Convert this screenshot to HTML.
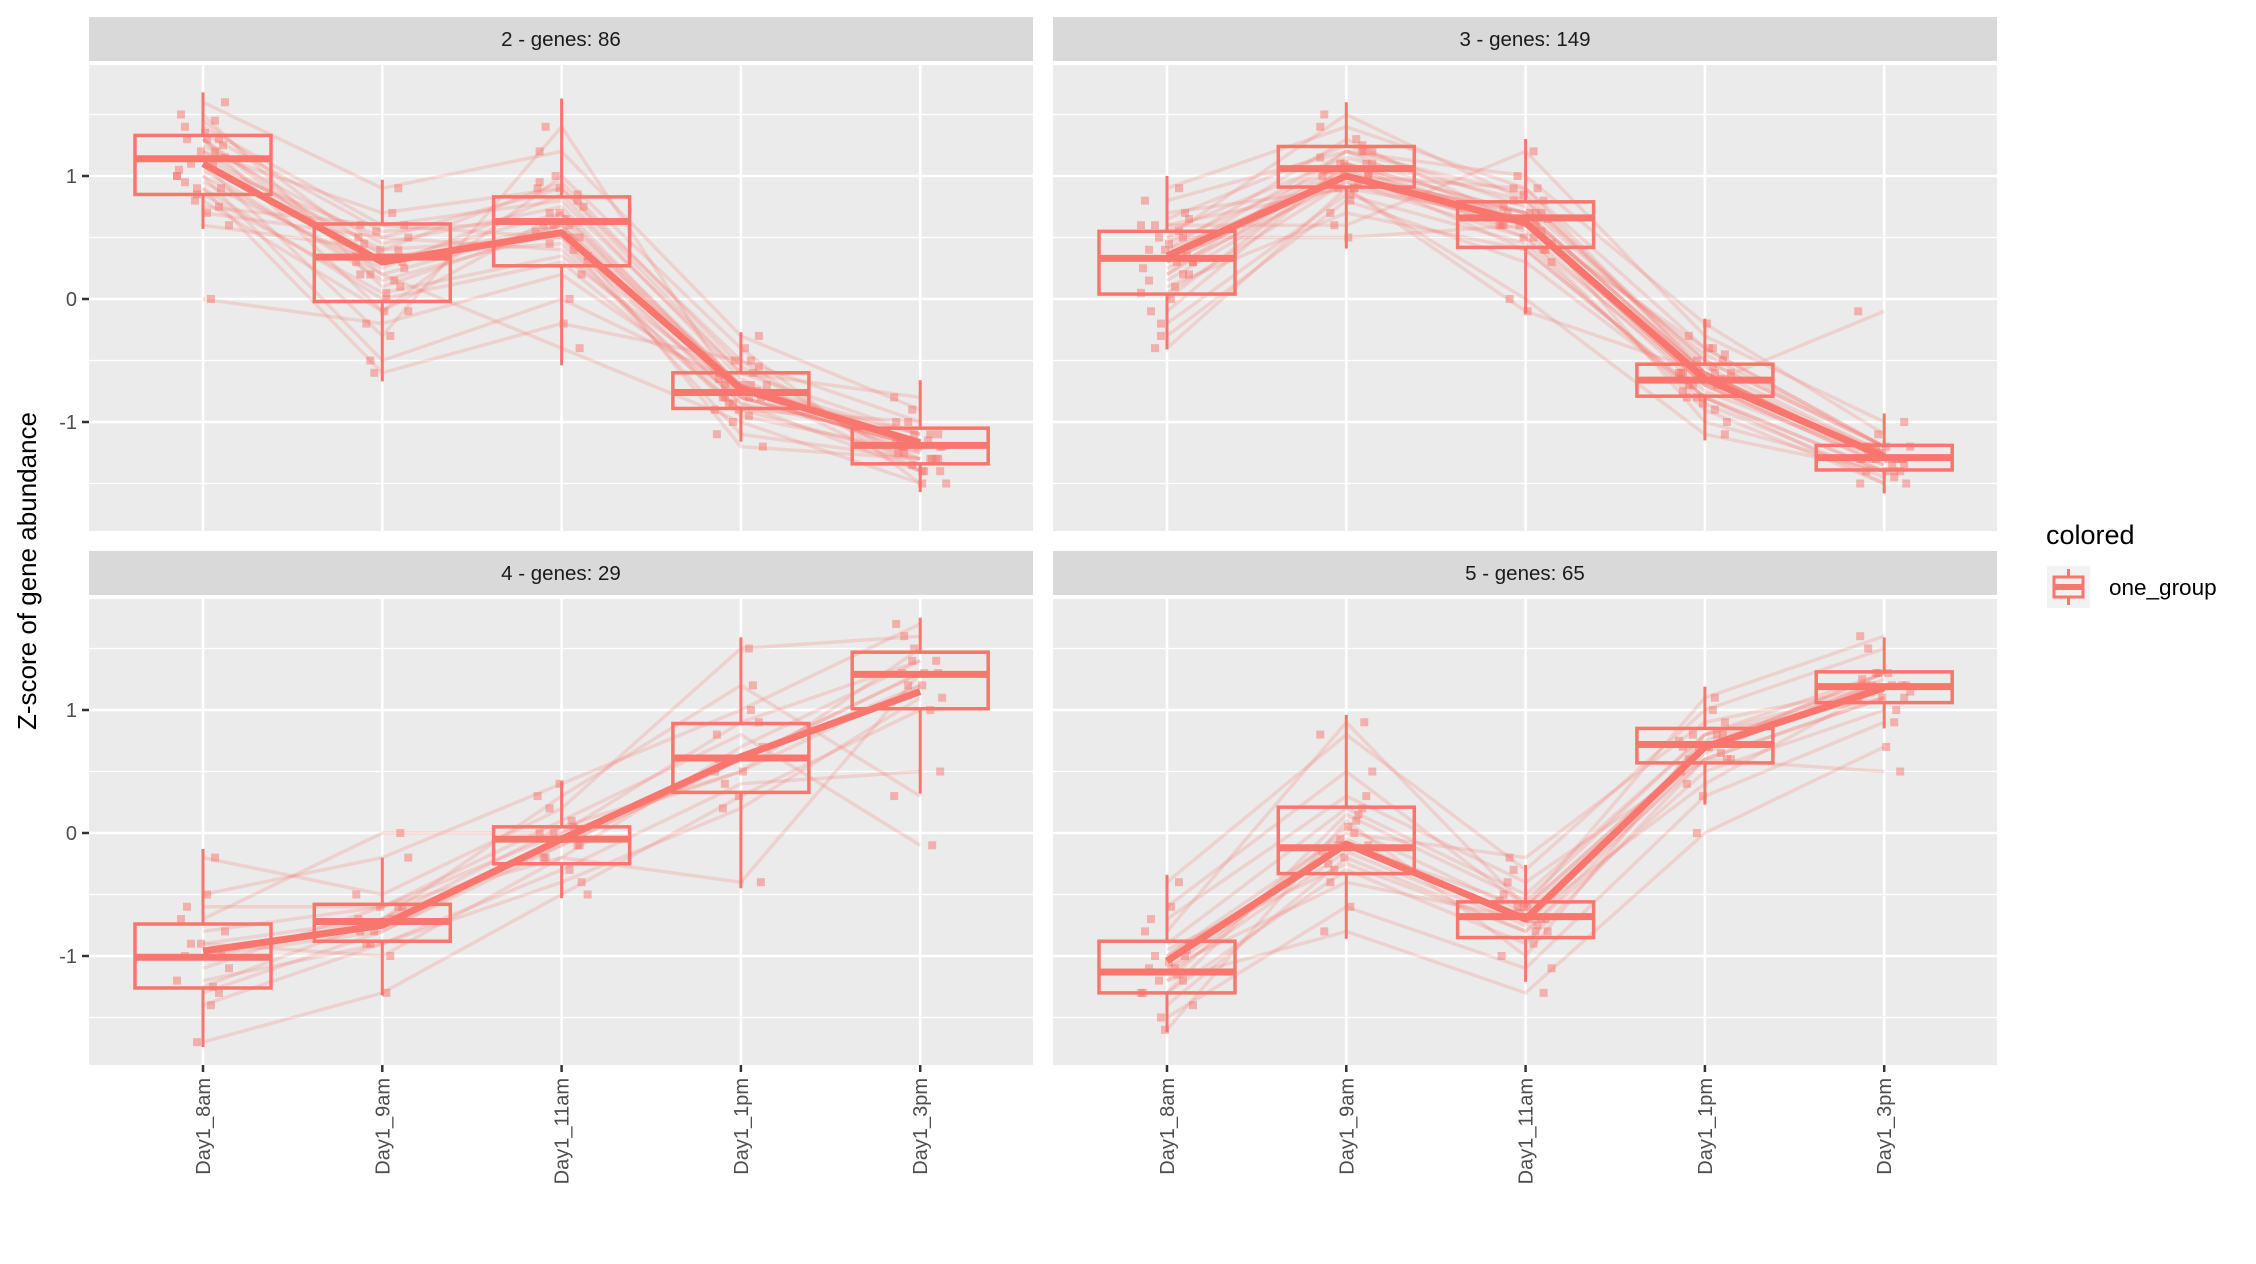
<!DOCTYPE html>
<html><head><meta charset="utf-8"><style>
html,body{margin:0;padding:0;background:#fff;}
svg{display:block;font-family:"Liberation Sans",Arial,sans-serif;}
</style></head><body>
<svg id="chart" width="2256" height="1264" viewBox="0 0 2256 1264" xmlns="http://www.w3.org/2000/svg">
<text x="0" y="0" transform="translate(36,571) rotate(-90)" text-anchor="middle" font-size="26" fill="#000">Z-score of gene abundance</text>
<text x="2046" y="544" font-size="27" fill="#000">colored</text>
<g>
<rect x="2047" y="566" width="43" height="42" fill="#f2f2f2"/>
<line x1="2068.5" y1="569" x2="2068.5" y2="605" stroke="#F8766D" stroke-width="3"/>
<rect x="2054" y="577" width="29" height="20" fill="#f2f2f2" stroke="#F8766D" stroke-width="3"/>
<line x1="2054" y1="587" x2="2083" y2="587" stroke="#F8766D" stroke-width="6"/>
<text x="2109" y="595" font-size="22.5" fill="#000">one_group</text>
</g>
<g id="panels"></g>
</svg>
<script>
const categories = ["Day1_8am","Day1_9am","Day1_11am","Day1_1pm","Day1_3pm"];
const panelTitles = ["2 - genes: 86","3 - genes: 149","4 - genes: 29","5 - genes: 65"];
const yTicks = [-1,0,1];
const yTickLabels = ["-1","0","1"];
// box stats per panel: [low whisker, q1, median, q3, high whisker] per category
const boxP2 = [[0.57,0.85,1.14,1.33,1.68],[-0.67,-0.02,0.34,0.61,0.97],[-0.54,0.27,0.63,0.83,1.63],[-1.16,-0.89,-0.76,-0.60,-0.27],[-1.57,-1.34,-1.19,-1.05,-0.66]];
const boxP3 = [[-0.41,0.04,0.33,0.55,1.0],[0.41,0.91,1.06,1.24,1.6],[-0.12,0.42,0.66,0.79,1.3],[-1.15,-0.79,-0.66,-0.53,-0.16],[-1.58,-1.39,-1.29,-1.19,-0.93]];
const boxP4 = [[-1.74,-1.26,-1.01,-0.74,-0.13],[-1.32,-0.88,-0.72,-0.58,-0.2],[-0.53,-0.25,-0.05,0.05,0.42],[-0.45,0.33,0.61,0.89,1.59],[0.32,1.01,1.29,1.47,1.75]];
const boxP5 = [[-1.62,-1.30,-1.13,-0.88,-0.34],[-0.86,-0.33,-0.12,0.21,0.96],[-1.21,-0.85,-0.68,-0.56,-0.26],[0.23,0.57,0.72,0.85,1.19],[0.85,1.06,1.19,1.31,1.59]];
const meanP2 = [1.10,0.30,0.54,-0.73,-1.17];
const meanP3 = [0.35,1.0,0.62,-0.65,-1.28];
const meanP4 = [-0.96,-0.75,-0.05,0.62,1.15];
const meanP5 = [-1.04,-0.09,-0.70,0.70,1.18];
const genesP2 = [[1.4,0.6,0.8,-0.6,-1.1],[1.2,0.3,0.7,-0.8,-1.2],[0.9,0.0,0.3,-0.9,-1.3],[1.6,0.9,1.2,-0.3,-0.9],[1.0,-0.5,0.0,-0.7,-1.4],[0.7,0.5,0.9,-0.5,-1.0],[1.3,0.2,-0.4,-1.0,-1.5],[1.1,-0.3,1.4,-0.8,-1.2],[0.6,0.4,0.5,-1.1,-1.3],[1.5,0.1,0.6,-0.7,-1.1],[0.0,-0.2,0.2,-0.8,-1.2],[1.2,0.7,0.9,-0.6,-0.8],[0.9,-0.6,-0.2,-0.5,-1.4],[1.3,0.3,0.6,-1.2,-1.3],[1.1,0.5,0.4,-0.9,-1.0],[0.8,-0.1,1.0,-0.4,-1.5],[1.25,0.45,0.75,-0.75,-1.25],[1.05,0.15,0.55,-0.85,-1.15],[1.35,0.55,0.65,-0.7,-1.2],[0.95,0.25,0.85,-0.65,-1.3],[1.45,0.35,0.45,-0.95,-1.25],[0.85,0.05,0.35,-0.75,-1.1],[1.15,0.4,0.95,-0.55,-1.35],[1.0,0.2,0.6,-0.8,-1.2],[1.3,-0.1,0.7,-0.7,-1.15],[0.75,0.6,0.5,-0.85,-1.4]];
const genesP3 = [[0.4,1.0,0.7,-0.6,-1.3],[0.9,1.4,0.9,-0.4,-1.2],[-0.3,0.8,0.3,-0.8,-1.4],[0.2,1.2,0.6,-0.7,-1.3],[0.6,0.6,1.2,-0.3,-1.0],[0.0,1.1,0.5,-0.9,-1.5],[0.5,1.5,0.8,-0.5,-1.2],[-0.4,0.9,0.0,-1.1,-1.4],[0.3,1.0,0.7,-0.6,-1.3],[0.8,1.2,1.0,-0.2,-1.1],[0.1,0.7,0.4,-0.8,-1.5],[0.4,1.3,0.6,-0.7,-0.1],[0.7,0.9,-0.1,-0.6,-1.3],[-0.1,1.1,0.7,-1.0,-1.4],[0.3,1.0,0.9,-0.6,-1.3],[0.5,0.5,0.6,-0.4,-1.2],[0.35,1.05,0.65,-0.65,-1.3],[0.25,0.95,0.6,-0.7,-1.35],[0.45,1.1,0.7,-0.6,-1.25],[0.15,1.0,0.55,-0.75,-1.3],[0.55,1.15,0.8,-0.55,-1.25],[-0.2,0.85,0.45,-0.85,-1.45],[0.65,1.25,0.75,-0.5,-1.2],[0.05,0.95,0.5,-0.7,-1.35],[0.35,1.2,0.85,-0.6,-1.3],[0.2,1.05,0.4,-0.8,-1.4],[0.6,0.9,0.65,-0.45,-1.2],[0.3,1.1,0.6,-0.65,-1.3]];
const genesP4 = [[-1.0,-0.7,-0.1,0.6,1.3],[-0.2,-0.5,0.2,1.5,1.6],[-1.7,-1.3,-0.5,0.3,1.0],[-0.8,-0.6,0.0,0.9,1.4],[-1.2,-0.9,-0.3,0.4,0.5],[-0.5,-0.2,0.4,1.0,1.7],[-1.3,-0.8,-0.1,0.6,1.2],[-0.9,-1.0,-0.2,-0.4,1.3],[-1.1,-0.6,0.1,0.8,-0.1],[-0.7,0.0,0.0,0.5,1.5],[-1.4,-0.9,-0.4,0.2,1.1],[-0.9,-0.7,0.3,1.2,0.3],[-1.0,-0.8,-0.05,0.6,1.3],[-0.6,-0.6,-0.2,0.7,1.4],[-1.25,-0.7,0.05,0.5,1.2]];
const genesP5 = [[-1.1,-0.1,-0.7,0.7,1.2],[-0.4,0.8,-0.3,1.0,1.5],[-1.5,-0.6,-1.1,0.3,0.9],[-0.9,0.2,-0.5,0.8,1.3],[-1.3,-0.3,-0.9,0.6,1.1],[-0.6,0.5,-0.6,1.1,1.6],[-1.2,-0.8,-1.3,0.0,0.7],[-1.0,0.0,-0.2,0.9,1.2],[-1.4,-0.2,-0.8,0.5,1.0],[-0.8,0.9,-0.6,0.7,1.3],[-1.1,-0.4,-0.7,0.4,1.2],[-1.6,0.1,-1.0,0.8,1.1],[-1.0,-0.1,-0.6,0.7,1.3],[-0.7,0.3,-0.4,0.6,0.5],[-1.15,-0.15,-0.75,0.75,1.2],[-1.2,0.05,-0.65,0.7,1.15],[-0.95,-0.25,-0.8,0.65,1.25],[-1.3,0.15,-0.55,0.8,1.2],[-1.05,-0.05,-0.7,0.6,1.1]];

const boxes=[boxP2,boxP3,boxP4,boxP5], means=[meanP2,meanP3,meanP4,meanP5], genes=[genesP2,genesP3,genesP4,genesP5];
const NS="http://www.w3.org/2000/svg", COL="#F8766D";
const root=document.getElementById('panels');
function mk(tag,attrs,parent){const e=document.createElementNS(NS,tag);for(const k in attrs)e.setAttribute(k,attrs[k]);parent.appendChild(e);return e;}
const PW=944, PH=466, stripH=44;
const lefts=[89,1053], tops=[65,599];
const jit=[-18,12,-6,22,-26,4,16,-12,26,-22,8,-2,18,-16,10,-8,20,-24,2];
for(let p=0;p<4;p++){
  const L=lefts[p%2], T=tops[Math.floor(p/2)];
  const xS=i=>L+114+i*179.3;
  const yS=v=>T+111+(1-v)*123;
  const g=mk('g',{},root);
  
  
  const st=mk('rect',{x:L,y:T-stripH-4,width:PW,height:stripH,fill:'#d9d9d9'},g);
  
  
  const stt=mk('text',{x:L+PW/2,y:T-stripH-4+29,'text-anchor':'middle','font-size':'20.5',fill:'#1a1a1a'},g);
  stt.textContent=panelTitles[p];
  
  
  mk('rect',{x:L,y:T,width:PW,height:PH,fill:'#ebebeb'},g);
  [-1.5,-0.5,0.5,1.5].forEach(v=>mk('line',{x1:L,x2:L+PW,y1:yS(v),y2:yS(v),stroke:'#fff','stroke-width':1.2},g));
  yTicks.forEach(v=>mk('line',{x1:L,x2:L+PW,y1:yS(v),y2:yS(v),stroke:'#fff','stroke-width':2.6},g));
  categories.forEach((c,i)=>mk('line',{x1:xS(i),x2:xS(i),y1:T,y2:T+PH,stroke:'#fff','stroke-width':2.6},g));
  if(p%2===0){
    yTicks.forEach((v,k)=>{
      mk('line',{x1:L-7,x2:L,y1:yS(v),y2:yS(v),stroke:'#333','stroke-width':2.5},g);
      const t=mk('text',{x:L-12,y:yS(v)+7,'text-anchor':'end','font-size':'20',fill:'#4d4d4d'},g);
      t.textContent=yTickLabels[k];
      
      
    });
  }
  if(p>=2){
    categories.forEach((c,i)=>{
      mk('line',{x1:xS(i),x2:xS(i),y1:T+PH,y2:T+PH+7,stroke:'#333','stroke-width':2.5},g);
      const t=mk('text',{x:0,y:0,transform:`translate(${xS(i)+7},${T+PH+13}) rotate(-90)`,'text-anchor':'end','font-size':'20',fill:'#4d4d4d'},g);
      t.textContent=c;
      
      
    });
  }
  genes[p].forEach((gv,j)=>{
    const pts=gv.map((v,i)=>xS(i)+','+yS(v)).join(' ');
    const pl=mk('polyline',{points:pts,fill:'none',stroke:COL,'stroke-opacity':0.22,'stroke-width':3.5},g);
    
    
  });
  genes[p].forEach((gv,j)=>{
    gv.forEach((v,i)=>{
      const r=mk('rect',{x:xS(i)+jit[(j+i*3)%jit.length]-4,y:yS(v)-4,width:8,height:8,fill:COL,'fill-opacity':0.5},g);
      
      
    });
  });
  boxes[p].forEach((b,i)=>{
    const bg=mk('g',{},g);
    
    
    const x=xS(i), w=136;
    mk('line',{x1:x,x2:x,y1:yS(b[4]),y2:yS(b[3]),stroke:COL,'stroke-width':3},bg);
    mk('line',{x1:x,x2:x,y1:yS(b[1]),y2:yS(b[0]),stroke:COL,'stroke-width':3},bg);
    mk('rect',{x:x-w/2,y:yS(b[3]),width:w,height:yS(b[1])-yS(b[3]),fill:'none',stroke:COL,'stroke-width':3.5},bg);
    mk('line',{x1:x-w/2,x2:x+w/2,y1:yS(b[2]),y2:yS(b[2]),stroke:COL,'stroke-width':7},bg);
  });
  const mpts=means[p].map((v,i)=>xS(i)+','+yS(v)).join(' ');
  const ml=mk('polyline',{points:mpts,fill:'none',stroke:COL,'stroke-width':7,'stroke-linejoin':'round'},g);
  
  
}
</script>
</body></html>
